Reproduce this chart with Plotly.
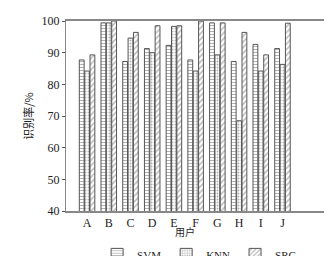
import plotly.graph_objects as go

users = ["A", "B", "C", "D", "E", "F", "G", "H", "I", "J"]
svm = [87.7, 99.4, 87.2, 91.3, 92.3, 87.7, 99.4, 87.2, 92.6, 91.3]
knn = [84.2, 99.4, 94.6, 90.0, 98.3, 84.2, 89.3, 68.5, 84.2, 86.3]
src = [89.3, 100.0, 96.4, 98.5, 98.5, 100.0, 99.4, 96.4, 89.3, 99.3]
series = [("SVM", svm, "-"), ("KNN", knn, "."), ("SRC", src, "/")]
yticks = [40, 50, 60, 70, 80, 90, 100]

fig = go.Figure()
for name, vals, shape in series:
    fig.add_trace(go.Bar(
        x=users, y=vals, name=name,
        marker=dict(
            color="white",
            line=dict(color="#555555", width=1),
            pattern=dict(shape=shape, fgcolor="#666666", bgcolor="white",
                         size=3 if shape != "/" else 4, solidity=0.35),
        ),
    ))

serif = "Liberation Serif, Times New Roman, serif"
fig.update_layout(
    width=332, height=256,
    margin=dict(l=58, r=13, t=13, b=53, autoexpand=False),
    paper_bgcolor="white", plot_bgcolor="white",
    barmode="group", bargap=0.26, bargroupgap=0.1,
    font=dict(family=serif, size=11, color="#222222"),
    showlegend=True,
    legend=dict(orientation="h", x=0.51, xanchor="center", y=-0.152, yanchor="top",
                font=dict(family=serif, size=11), itemwidth=30,
                traceorder="normal", tracegroupgap=0),
    xaxis=dict(
        range=[-0.97, 11.05], showgrid=False, ticks="", showline=True, linecolor="#888888",
        linewidth=1.5, mirror=True, tickfont=dict(family=serif, size=12), automargin=False,
        ticklabelstandoff=0,
    ),
    yaxis=dict(
        range=[40, 100], tickvals=yticks, showgrid=False, ticks="outside", ticklen=3,
        tickcolor="#555555", showline=True, linecolor="#888888", linewidth=1,
        mirror=True, tickfont=dict(family=serif, size=12), zeroline=False, automargin=False,
        title=dict(text="识别率/%", font=dict(family="Noto Sans CJK SC", size=11), standoff=5),
    ),
    annotations=[dict(text="用户", xref="paper", yref="paper", x=0.455, y=-0.108,
                      xanchor="center", yanchor="middle", showarrow=False,
                      font=dict(family="Noto Sans CJK SC", size=10, color="#222222"))],
)

fig.write_html("out.html")
